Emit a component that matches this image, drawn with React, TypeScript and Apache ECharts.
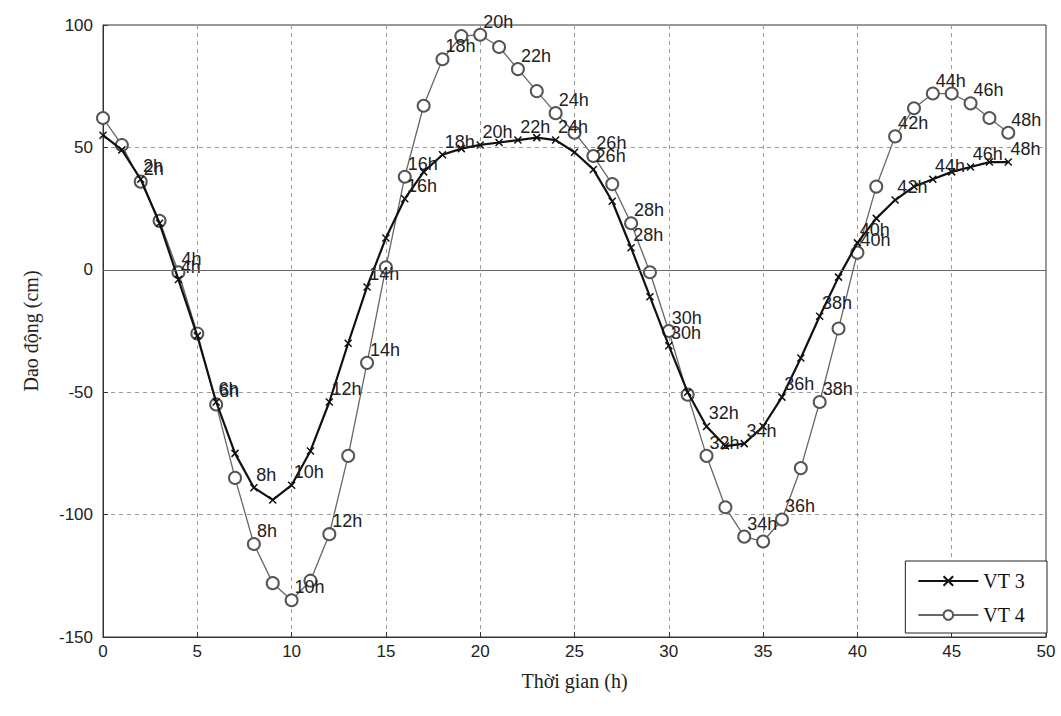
import React, { useEffect, useRef } from "react";
import * as echarts from "echarts";

const hours = [0,1,2,3,4,5,6,7,8,9,10,11,12,13,14,15,16,17,18,19,20,21,22,23,24,25,26,27,28,29,30,31,32,33,34,35,36,37,38,39,40,41,42,43,44,45,46,47,48];
const vt3 = [55,49,37,19,-4,-27,-54,-75,-89,-94,-88,-74,-54,-30,-7,13,29,40,47,49.5,51,52,53,54,53,48,41,28,9,-11,-31,-50,-64,-72,-71,-64,-52,-36,-19,-3,11,21,28.5,34,37,40,42,44,44];
const vt4 = [62,51,36,20,-1,-26,-55,-85,-112,-128,-135,-127,-108,-76,-38,1,38,67,86,95.5,96,91,82,73,64,56,46.5,35,19,-1,-25,-51,-76,-97,-109,-111,-102,-81,-54,-24,7,34,54.5,66,72,72,68,62,56];
const seriesNames = ["VT 3", "VT 4"];
const xTitle = "Thời gian (h)";
const yTitle = "Dao động (cm)";

const labelFmt = (p: any) => {
  const h = p.data[0];
  return h > 0 && h % 2 === 0 ? h + "h" : "";
};

export default function App() {
  const ref = useRef<HTMLDivElement>(null);
  useEffect(() => {
    if (!ref.current) return;
    const chart = echarts.init(ref.current, null, { renderer: "svg" });
    const labelStyle = {
      show: true,
      position: "right",
      distance: 0,
      formatter: labelFmt,
      fontFamily: "Liberation Sans, Arial, sans-serif",
      fontSize: 18,
      color: "#222",
    };
    chart.setOption({
      animation: false,
      backgroundColor: "#fff",
      grid: {
        left: 103, right: 15, top: 25, bottom: 79,
        show: true, borderColor: "#333", borderWidth: 1, backgroundColor: "#fff",
      },
      legend: {
        orient: "vertical",
        right: 14,
        bottom: 83,
        backgroundColor: "#fff",
        borderColor: "#222",
        borderWidth: 1,
        padding: [10, 22, 8, 12],
        itemWidth: 60,
        itemHeight: 12,
        itemGap: 14,
        textStyle: { fontFamily: "Liberation Serif, Times New Roman, serif", fontSize: 20, color: "#111" },
        data: seriesNames,
      },
      xAxis: {
        type: "value",
        min: 0, max: 50, interval: 5,
        name: xTitle,
        nameLocation: "middle",
        nameGap: 34,
        nameTextStyle: { fontFamily: "Liberation Serif, Times New Roman, serif", fontSize: 20, color: "#222" },
        axisLine: { show: true, onZero: false, lineStyle: { color: "#333" } },
        axisTick: { show: true, inside: true, length: 5, lineStyle: { color: "#333" } },
        axisLabel: { fontFamily: "Liberation Sans, Arial, sans-serif", fontSize: 17, color: "#222", margin: 6 },
        splitLine: { show: true, lineStyle: { type: [4, 4], color: "#999", width: 1 } },
      },
      yAxis: {
        type: "value",
        min: -150, max: 100, interval: 50,
        name: yTitle,
        nameLocation: "middle",
        nameGap: 62,
        nameTextStyle: { fontFamily: "Liberation Serif, Times New Roman, serif", fontSize: 20, color: "#222" },
        axisLine: { show: true, onZero: false, lineStyle: { color: "#333" } },
        axisTick: { show: true, inside: true, length: 5, lineStyle: { color: "#333" } },
        axisLabel: { fontFamily: "Liberation Sans, Arial, sans-serif", fontSize: 17, color: "#222", margin: 10 },
        splitLine: { show: true, lineStyle: { type: [4, 4], color: "#999", width: 1 } },
      },
      series: [
        {
          name: seriesNames[0],
          type: "line",
          data: hours.map((h, i) => [h, vt3[i]]),
          symbol: "path://M0 0L10 10M10 0L0 10",
          symbolSize: 7,
          lineStyle: { color: "#111", width: 2.2 },
          itemStyle: { color: "#111", borderColor: "#111", borderWidth: 1.5 },
          label: { ...labelStyle, offset: [-2, -13] },
          z: 3,
          markLine: {
            silent: true,
            symbol: "none",
            label: { show: false },
            lineStyle: { type: "solid", color: "#666", width: 1 },
            data: [{ yAxis: 0 }],
          },
        },
        {
          name: seriesNames[1],
          type: "line",
          data: hours.map((h, i) => [h, vt4[i]]),
          symbol: "emptyCircle",
          symbolSize: 12,
          lineStyle: { color: "#666", width: 1.3 },
          itemStyle: { color: "#555", borderColor: "#555", borderWidth: 1.3 },
          label: { ...labelStyle, offset: [-4, -13] },
          z: 2,
        },
      ],
    });
    return () => chart.dispose();
  }, []);
  return <div ref={ref} style={{ width: 1061, height: 716, position: "absolute", left: 0, top: 0 }} />;
}
